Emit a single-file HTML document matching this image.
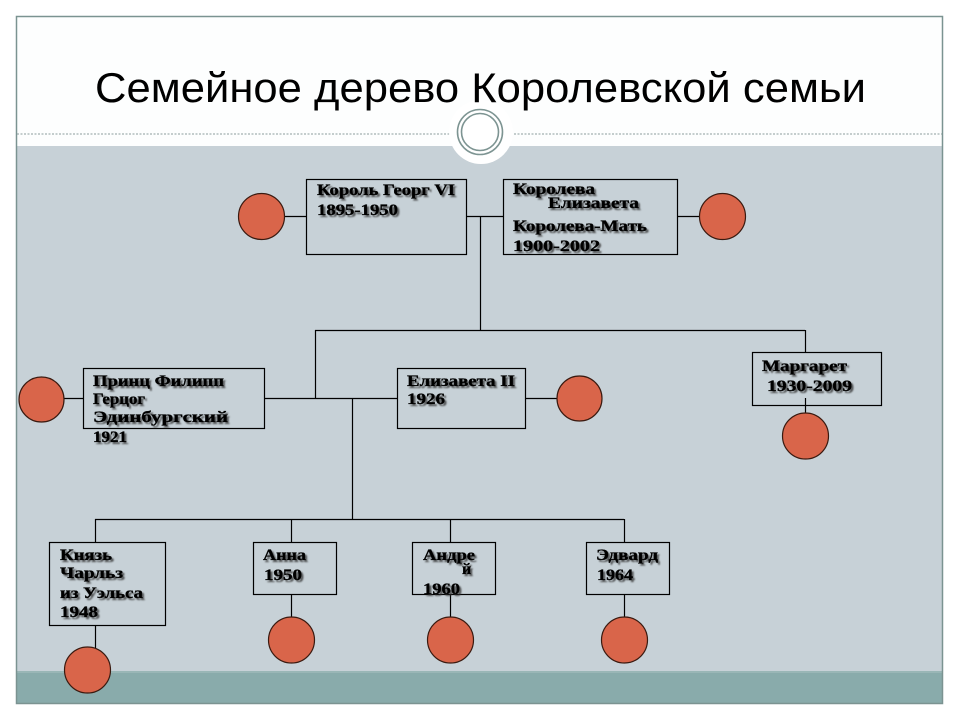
<!DOCTYPE html>
<html>
<head>
<meta charset="utf-8">
<style>
html,body{margin:0;padding:0;background:#fff;}
svg{display:block;}
.t{font-family:"Liberation Serif","DejaVu Serif",serif;font-weight:bold;font-size:16px;fill:#000;stroke:#000;stroke-width:0.35;}
.title{font-family:"Liberation Sans","DejaVu Sans",sans-serif;font-size:42px;fill:#000;}
</style>
</head>
<body>
<svg width="960" height="720" viewBox="0 0 960 720" xmlns="http://www.w3.org/2000/svg">
<defs>
<filter id="sh" x="-10%" y="-30%" width="130%" height="180%">
<feDropShadow dx="2" dy="2" stdDeviation="0.9" flood-color="#333" flood-opacity="0.75"/>
</filter>
</defs>
<rect x="0" y="0" width="960" height="720" fill="#ffffff"/>
<rect x="16" y="16" width="927" height="130" fill="#fdfefe"/>
<rect x="16" y="146" width="927" height="525" fill="#c7d1d7"/>
<rect x="16" y="671" width="927" height="32" fill="#89abab"/>
<line x1="16" y1="672" x2="943" y2="672" stroke="#a9c1c1" stroke-width="1"/>
<rect x="16.5" y="16.5" width="926" height="687" fill="none" stroke="#7b9391" stroke-width="1.5"/>
<line x1="17" y1="134" x2="942" y2="134" stroke="#8a9c9c" stroke-width="1" stroke-dasharray="2,1.5"/>
<circle cx="481" cy="132" r="32" fill="#ffffff"/>
<circle cx="480" cy="132" r="22.5" fill="none" stroke="#7d9492" stroke-width="1.6"/>
<circle cx="480" cy="132" r="18.5" fill="none" stroke="#7d9492" stroke-width="1.6"/>
<text class="title" x="95" y="102" textLength="771" lengthAdjust="spacingAndGlyphs">Семейное дерево Королевской семьи</text>

<g stroke="#000" stroke-width="1.2" fill="none">
<line x1="284" y1="216.5" x2="306" y2="216.5"/>
<line x1="466" y1="216.5" x2="503" y2="216.5"/>
<line x1="480.5" y1="216" x2="480.5" y2="330"/>
<line x1="677" y1="216.5" x2="699" y2="216.5"/>
<line x1="315" y1="330.5" x2="805" y2="330.5"/>
<line x1="315.5" y1="330" x2="315.5" y2="398"/>
<line x1="805.5" y1="330" x2="805.5" y2="352"/>
<line x1="805.5" y1="398" x2="805.5" y2="413"/>
<line x1="64" y1="398.5" x2="83" y2="398.5"/>
<line x1="264" y1="398.5" x2="397" y2="398.5"/>
<line x1="352.5" y1="398" x2="352.5" y2="519"/>
<line x1="526" y1="398.5" x2="557" y2="398.5"/>
<line x1="95" y1="519.5" x2="624" y2="519.5"/>
<line x1="95.5" y1="519" x2="95.5" y2="542"/>
<line x1="291.5" y1="519" x2="291.5" y2="542"/>
<line x1="450.5" y1="519" x2="450.5" y2="542"/>
<line x1="624.5" y1="519" x2="624.5" y2="542"/>
<line x1="95.5" y1="625" x2="95.5" y2="648"/>
<line x1="291.5" y1="594" x2="291.5" y2="617"/>
<line x1="450.5" y1="594" x2="450.5" y2="617"/>
<line x1="624.5" y1="594" x2="624.5" y2="617"/>
</g>

<g stroke="#000" stroke-width="1.2" fill="none">
<rect x="306.5" y="179.5" width="160" height="75"/>
<rect x="503.5" y="179.5" width="174" height="75"/>
<rect x="83.5" y="368.5" width="181" height="60"/>
<rect x="397.5" y="368.5" width="128" height="60"/>
<rect x="752.5" y="352.5" width="129" height="53"/>
<rect x="49.5" y="542.5" width="116" height="83"/>
<rect x="253.5" y="542.5" width="83" height="52"/>
<rect x="412.5" y="542.5" width="83" height="52"/>
<rect x="586.5" y="542.5" width="83" height="52"/>
</g>

<g fill="#d9654a" stroke="#3a1a10" stroke-width="1.2">
<circle cx="261.5" cy="216.5" r="23"/>
<circle cx="722.5" cy="216.5" r="23"/>
<circle cx="41.5" cy="399.5" r="22.5"/>
<circle cx="579.5" cy="398.5" r="22.5"/>
<circle cx="805.5" cy="436" r="23"/>
<circle cx="87.5" cy="670" r="23"/>
<circle cx="291.5" cy="640" r="23"/>
<circle cx="450.5" cy="640" r="23"/>
<circle cx="624.5" cy="640" r="23"/>
</g>

<g class="t" filter="url(#sh)">
<text x="317" y="195" textLength="138" lengthAdjust="spacingAndGlyphs">Король Георг VI</text>
<text x="317" y="215" textLength="81" lengthAdjust="spacingAndGlyphs">1895-1950</text>

<text x="513" y="194" textLength="82" lengthAdjust="spacingAndGlyphs">Королева</text>
<text x="548" y="208" textLength="91" lengthAdjust="spacingAndGlyphs">Елизавета</text>
<text x="513" y="231" textLength="134" lengthAdjust="spacingAndGlyphs">Королева-Мать</text>
<text x="513" y="251" textLength="87" lengthAdjust="spacingAndGlyphs">1900-2002</text>

<text x="93" y="386" textLength="131" lengthAdjust="spacingAndGlyphs">Принц Филипп</text>
<text x="93" y="404" textLength="52" lengthAdjust="spacingAndGlyphs">Герцог</text>
<text x="93" y="422" textLength="135" lengthAdjust="spacingAndGlyphs">Эдинбургский</text>
<text x="93" y="442" textLength="34" lengthAdjust="spacingAndGlyphs">1921</text>

<text x="407" y="386" textLength="108" lengthAdjust="spacingAndGlyphs">Елизавета II</text>
<text x="407" y="404" textLength="38" lengthAdjust="spacingAndGlyphs">1926</text>

<text x="762" y="371" textLength="85" lengthAdjust="spacingAndGlyphs">Маргарет</text>
<text x="767" y="391" textLength="85" lengthAdjust="spacingAndGlyphs">1930-2009</text>

<text x="60" y="560" textLength="52" lengthAdjust="spacingAndGlyphs">Князь</text>
<text x="60" y="578" textLength="63" lengthAdjust="spacingAndGlyphs">Чарльз</text>
<text x="60" y="598" textLength="83" lengthAdjust="spacingAndGlyphs">из Уэльса</text>
<text x="60" y="617" textLength="38" lengthAdjust="spacingAndGlyphs">1948</text>

<text x="263" y="560" textLength="43" lengthAdjust="spacingAndGlyphs">Анна</text>
<text x="264" y="580" textLength="38" lengthAdjust="spacingAndGlyphs">1950</text>

<text x="423" y="560" textLength="52" lengthAdjust="spacingAndGlyphs">Андре</text>
<text x="462" y="574">й</text>
<text x="423" y="594" textLength="37" lengthAdjust="spacingAndGlyphs">1960</text>

<text x="596" y="560" textLength="62" lengthAdjust="spacingAndGlyphs">Эдвард</text>
<text x="597" y="580" textLength="36" lengthAdjust="spacingAndGlyphs">1964</text>
</g>
</svg>
</body>
</html>
